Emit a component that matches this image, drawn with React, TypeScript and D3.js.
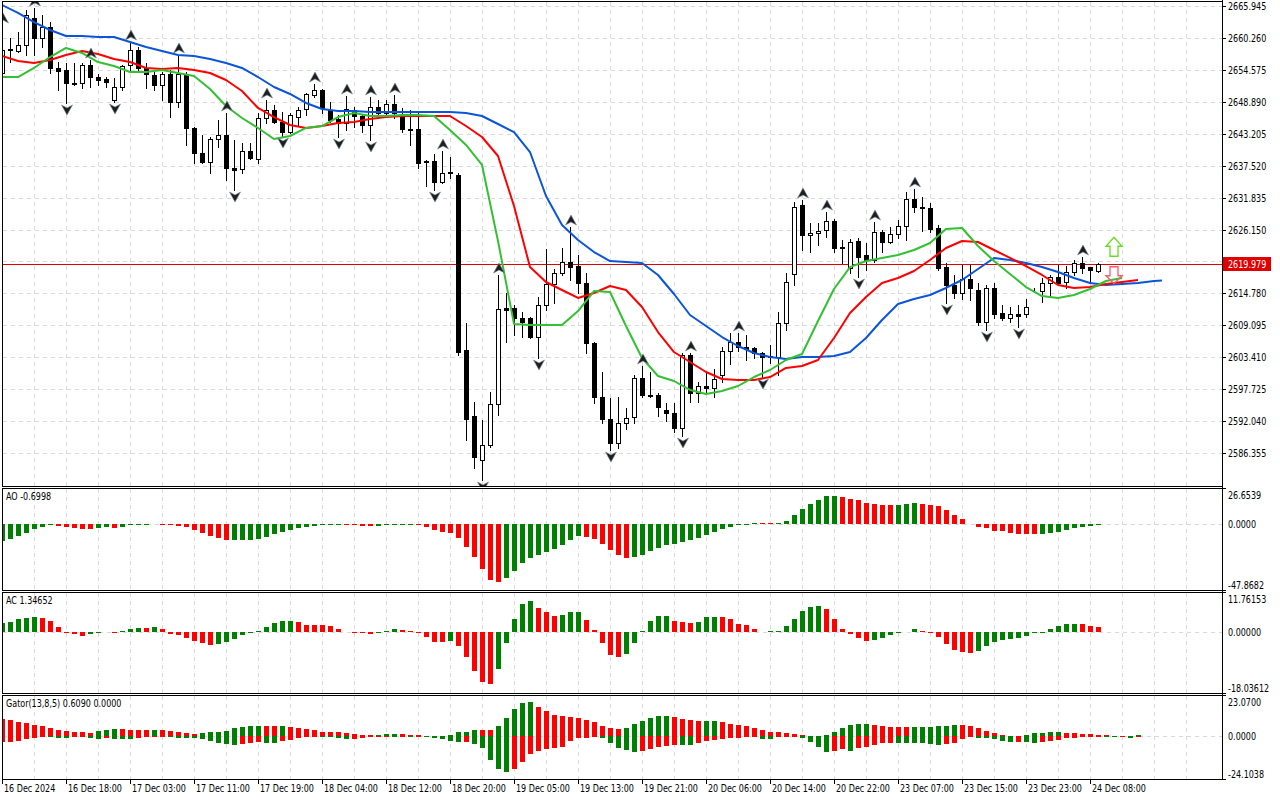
import * as d3 from 'd3'

// H1 bars, 16 Dec 2024 .. 24 Dec 2024
const timeLabels = [
  '16 Dec 2024', '16 Dec 18:00', '17 Dec 03:00', '17 Dec 11:00', '17 Dec 19:00', '18 Dec 04:00',
  '18 Dec 12:00', '18 Dec 20:00', '19 Dec 05:00', '19 Dec 13:00', '19 Dec 21:00', '20 Dec 06:00',
  '20 Dec 14:00', '20 Dec 22:00', '23 Dec 07:00', '23 Dec 15:00', '23 Dec 23:00', '24 Dec 08:00',
]

const priceTicks = [
  2665.945, 2660.26, 2654.575, 2648.89, 2643.205, 2637.52, 2631.835, 2626.15,
  2620.465, 2614.78, 2609.095, 2603.41, 2597.725, 2592.04, 2586.355,
]

const opens = [
  2654.02, 2658.29, 2657.93, 2659.0, 2663.81, 2660.25, 2662.2, 2654.91, 2654.55, 2652.24,
  2652.24, 2655.44, 2653.3, 2652.95, 2649.21, 2651.52, 2655.44, 2658.11, 2654.91, 2653.66,
  2651.88, 2653.84, 2648.85, 2653.84, 2644.23, 2639.78, 2638.17, 2642.27, 2642.98, 2637.11,
  2636.93, 2640.13, 2638.71, 2646.01, 2647.43, 2645.29, 2643.51, 2646.18, 2647.61, 2650.1,
  2650.99, 2647.43, 2645.83, 2645.12, 2647.43, 2646.36, 2644.76, 2647.96, 2646.9, 2648.5,
  2646.54, 2644.05, 2644.05, 2638.35, 2638.35, 2634.61, 2636.22, 2635.86, 2604.71, 2592.96,
  2585.13, 2587.8, 2595.1, 2612.19, 2612.19, 2610.41, 2610.41, 2607.02, 2612.72, 2616.46,
  2618.42, 2620.37, 2619.66, 2616.64, 2605.96, 2596.34, 2592.43, 2588.16, 2591.72, 2592.78,
  2599.73, 2596.7, 2596.7, 2594.03, 2593.5, 2590.83, 2603.82, 2597.05, 2598.3, 2597.95,
  2600.26, 2604.53, 2606.13, 2605.24, 2605.07, 2604.17, 2603.46, 2603.46, 2609.52, 2618.24,
  2630.52, 2625.18, 2625.54, 2626.07, 2627.67, 2623.04, 2619.31, 2624.11, 2621.62, 2620.73,
  2625.71, 2623.93, 2625.36, 2626.78, 2631.59, 2630.16, 2629.99, 2626.43, 2619.47, 2616.28,
  2614.86, 2617.35, 2615.39, 2609.69, 2615.75, 2611.3, 2610.41, 2611.12, 2611.12, 2615.39,
  2615.21, 2616.64, 2617.7, 2616.81, 2618.59, 2620.2, 2619.47, 2618.77,
]
const highs = [
  2662.56, 2660.25, 2661.31, 2665.23, 2665.59, 2664.34, 2663.09, 2655.97, 2655.8, 2655.8,
  2655.8, 2656.33, 2653.84, 2653.3, 2653.13, 2655.44, 2659.53, 2658.64, 2655.8, 2654.19,
  2654.19, 2654.55, 2657.22, 2654.19, 2644.4, 2642.98, 2642.62, 2645.65, 2646.9, 2642.09,
  2641.56, 2641.56, 2646.9, 2649.21, 2648.32, 2647.07, 2646.9, 2647.96, 2650.46, 2652.06,
  2651.17, 2648.85, 2646.54, 2649.92, 2647.96, 2646.54, 2649.74, 2649.21, 2649.21, 2650.1,
  2647.79, 2647.43, 2646.9, 2638.53, 2639.6, 2640.13, 2639.06, 2636.22, 2609.52, 2595.45,
  2592.25, 2597.23, 2618.06, 2614.86, 2612.72, 2611.47, 2610.58, 2614.14, 2622.69, 2619.13,
  2622.87, 2626.6, 2621.62, 2618.42, 2606.13, 2600.79, 2596.17, 2596.34, 2594.39, 2600.26,
  2601.86, 2600.79, 2597.05, 2595.28, 2595.28, 2604.17, 2604.17, 2599.01, 2600.62, 2601.33,
  2605.24, 2607.74, 2607.74, 2607.38, 2605.24, 2604.35, 2605.6, 2611.47, 2618.42, 2631.05,
  2631.41, 2627.32, 2627.32, 2629.27, 2628.03, 2624.29, 2624.47, 2624.65, 2623.76, 2627.49,
  2626.07, 2626.6, 2627.85, 2632.83, 2633.37, 2631.94, 2630.88, 2626.96, 2620.2, 2618.06,
  2619.84, 2619.84, 2616.64, 2616.28, 2616.64, 2612.72, 2612.36, 2612.72, 2613.79, 2615.75,
  2617.53, 2618.06, 2619.84, 2619.66, 2620.73, 2621.26, 2619.47, 2620.2,
]
const lows = [
  2653.66, 2655.97, 2657.75, 2657.22, 2657.22, 2658.64, 2654.02, 2650.99, 2648.68, 2651.88,
  2651.35, 2651.52, 2651.88, 2651.52, 2648.85, 2650.99, 2654.55, 2654.19, 2651.35, 2650.99,
  2649.21, 2646.18, 2647.96, 2641.2, 2638.0, 2638.0, 2636.22, 2640.84, 2634.97, 2633.19,
  2636.22, 2638.71, 2638.0, 2645.12, 2645.12, 2642.8, 2643.34, 2644.76, 2646.54, 2649.74,
  2646.9, 2645.29, 2642.62, 2643.87, 2644.4, 2643.51, 2642.09, 2646.54, 2646.18, 2646.01,
  2643.51, 2641.2, 2637.11, 2633.9, 2633.19, 2634.44, 2635.33, 2603.82, 2588.69, 2583.71,
  2581.57, 2587.44, 2593.14, 2606.13, 2607.38, 2607.02, 2606.85, 2603.29, 2611.83, 2613.08,
  2618.06, 2617.17, 2614.86, 2604.17, 2595.28, 2591.72, 2586.91, 2587.27, 2590.65, 2591.72,
  2596.34, 2596.34, 2592.96, 2592.07, 2590.11, 2589.4, 2595.45, 2595.45, 2597.05, 2596.34,
  2599.01, 2602.22, 2604.53, 2602.93, 2603.29, 2599.9, 2602.4, 2600.26, 2608.27, 2616.28,
  2622.51, 2622.15, 2623.4, 2624.82, 2622.15, 2620.2, 2618.42, 2617.7, 2618.95, 2620.37,
  2622.15, 2623.76, 2624.65, 2624.29, 2629.27, 2625.89, 2625.71, 2618.95, 2613.08, 2613.97,
  2613.79, 2613.61, 2609.16, 2608.27, 2610.41, 2610.05, 2609.69, 2608.8, 2610.58, 2615.03,
  2613.25, 2614.5, 2616.46, 2615.75, 2618.06, 2618.42, 2616.64, 2618.59,
]
const closes = [
  2658.11, 2658.11, 2659.0, 2664.34, 2660.25, 2662.2, 2654.91, 2654.37, 2652.24, 2652.06,
  2655.44, 2653.3, 2652.77, 2652.41, 2651.52, 2655.26, 2658.11, 2654.91, 2653.84, 2651.88,
  2653.84, 2648.85, 2653.84, 2644.23, 2639.78, 2638.17, 2642.27, 2642.98, 2637.11, 2636.75,
  2640.13, 2638.89, 2646.01, 2647.43, 2645.29, 2643.51, 2646.54, 2647.43, 2650.28, 2650.99,
  2647.79, 2645.65, 2645.12, 2647.61, 2646.36, 2644.76, 2647.96, 2646.9, 2648.5, 2646.9,
  2644.05, 2643.87, 2638.0, 2638.17, 2634.61, 2636.22, 2636.39, 2604.35, 2592.43, 2585.66,
  2587.8, 2595.1, 2612.01, 2611.83, 2610.41, 2609.69, 2607.02, 2612.72, 2616.46, 2618.42,
  2620.37, 2619.47, 2616.64, 2605.96, 2596.34, 2592.43, 2588.16, 2591.72, 2592.61, 2599.73,
  2596.7, 2596.52, 2594.56, 2593.5, 2590.83, 2603.82, 2597.05, 2598.3, 2597.95, 2599.55,
  2604.53, 2606.13, 2605.24, 2604.89, 2604.17, 2603.46, 2603.64, 2609.52, 2616.81, 2630.16,
  2625.18, 2625.54, 2625.89, 2627.67, 2622.87, 2622.87, 2623.93, 2621.26, 2620.73, 2625.71,
  2623.93, 2625.36, 2626.78, 2631.59, 2630.16, 2629.99, 2626.25, 2619.31, 2616.28, 2614.86,
  2617.35, 2615.75, 2609.69, 2615.75, 2611.12, 2610.41, 2611.12, 2610.76, 2612.36, 2615.3,
  2616.64, 2617.7, 2616.64, 2618.59, 2620.2, 2619.31, 2618.95, 2619.979,
]

const fractalUp = [0, 4, 11, 16, 22, 28, 33, 39, 43, 46, 49, 55, 62, 71, 80, 86, 92, 100, 103, 109, 114, 135]
const fractalDown = [8, 14, 29, 35, 42, 46, 54, 60, 67, 76, 85, 95, 107, 118, 123, 127]

// Alligator, one value every second bar (bar 0, 2, 4 ...)
const jaw = [
  2666.12, 2664.7, 2663.09, 2661.67, 2660.6, 2660.6, 2660.42, 2660.42, 2659.53, 2658.64,
  2657.93, 2657.22, 2657.04, 2656.51, 2655.8, 2654.91, 2653.3, 2651.52, 2650.28, 2648.68,
  2647.61, 2647.25, 2647.25, 2647.07, 2647.07, 2647.07, 2647.07, 2647.07, 2647.07, 2646.9,
  2646.36, 2644.94, 2643.51, 2639.95, 2632.12, 2626.96, 2624.29, 2622.15, 2620.55, 2620.37,
  2620.2, 2618.06, 2614.68, 2610.94, 2608.98, 2607.02, 2605.42, 2604.17, 2603.46, 2603.11,
  2603.46, 2603.46, 2603.64, 2604.35, 2606.85, 2610.05, 2612.9, 2613.79, 2614.5, 2615.75,
  2617.17, 2619.13, 2621.09, 2620.73, 2620.2, 2619.48, 2618.59, 2617.52, 2616.64, 2616.28,
  2616.46, 2616.64, 2616.99,
]
const jawLast = 2617.08 // bar 145, end of the jaw line
const teeth = [
  2657.04, 2656.15, 2655.8, 2656.33, 2657.22, 2657.93, 2657.4, 2656.51, 2655.97, 2654.91,
  2654.73, 2654.91, 2654.55, 2654.02, 2652.77, 2650.81, 2647.79, 2646.18, 2644.76, 2644.23,
  2644.58, 2645.12, 2645.29, 2645.83, 2646.18, 2646.36, 2646.36, 2646.36, 2646.36, 2644.58,
  2642.62, 2639.24, 2630.34, 2619.47, 2616.81, 2615.39, 2613.97, 2614.86, 2616.1, 2615.39,
  2612.36, 2607.91, 2604.35, 2602.57, 2600.79, 2599.55, 2599.37, 2599.37, 2599.9, 2601.51,
  2601.86, 2602.93, 2606.85, 2611.3, 2614.14, 2616.64, 2617.53, 2618.77, 2620.73, 2622.87,
  2624.11, 2623.93, 2622.51, 2621.09, 2619.66, 2618.06, 2616.28, 2615.75, 2615.92, 2616.46,
  2616.81, 2617.17,
]
const lips = [
  2653.3, 2653.3, 2654.91, 2656.86, 2658.47, 2657.58, 2655.97, 2655.26, 2654.19, 2654.19,
  2654.55, 2654.02, 2653.49, 2651.17, 2648.14, 2646.01, 2644.23, 2642.27, 2642.8, 2644.23,
  2644.58, 2646.18, 2646.9, 2646.36, 2646.36, 2646.54, 2646.54, 2646.36, 2643.87, 2641.2,
  2637.64, 2624.11, 2609.34, 2609.16, 2609.16, 2609.16, 2611.65, 2615.21, 2615.03, 2608.98,
  2603.29, 2600.08, 2599.19, 2597.59, 2596.88, 2597.41, 2598.3, 2599.9, 2601.15, 2602.93,
  2603.99, 2609.87, 2615.57, 2619.47, 2620.55, 2621.09, 2621.62, 2622.51, 2623.76, 2626.25,
  2626.43, 2623.22, 2620.55, 2618.24, 2615.92, 2614.32, 2613.97, 2614.5, 2615.57, 2616.99,
  2617.53,
]

const ao = [
  -12.05, -10.8, -8.6, -6.1, -3.4, -1.7, -0.7, -1.0, -1.7, -2.5,
  -3.2, -3.3, -2.5, -2.2, -2.4, -1.5, -0.5, -0.2, 0.1, 0.6,
  0.3, 0.1, -0.8, -2.0, -4.2, -6.1, -8.4, -9.8, -11.6, -11.5,
  -11.3, -11.1, -10.8, -9.1, -7.1, -5.4, -3.9, -2.5, -1.5, -1.0,
  -0.5, -0.2, -0.1, -0.3, -0.5, -0.8, -1.0, -0.8, -0.4, 0.2,
  0.4, 0.5, -0.3, -2.2, -3.9, -5.4, -6.4, -9.6, -16.2, -23.9,
  -32.5, -40.8, -42.1, -39.4, -34.2, -28.1, -24.6, -22.4, -20.2, -18.0,
  -15.0, -11.3, -8.4, -9.1, -10.3, -14.0, -18.7, -22.4, -24.4, -23.9,
  -22.4, -19.4, -17.0, -15.0, -14.0, -12.6, -11.1, -9.6, -7.6, -5.2,
  -3.0, -1.7, -0.7, 0.2, 1.0, 0.9, 0.8, 1.2, 2.9, 6.6,
  11.1, 14.8, 17.7, 20.7, 20.8, 20.2, 18.4, 17.7, 15.7, 14.8,
  14.0, 13.9, 14.3, 14.8, 15.5, 15.3, 14.3, 13.3, 10.3, 6.9,
  3.7, 0.7, -1.7, -2.5, -4.4, -4.9, -6.4, -7.1, -7.2, -7.3,
  -7.1, -6.1, -5.2, -3.7, -2.7, -1.6, -1.0, -0.6998,
]
const ac = [
  2.7, 3.0, 3.7, 4.2, 4.5, 4.2, 3.3, 1.5, -0.2, -0.5,
  -1.1, -0.7, -0.2, 0.1, -0.05, 0.4, 0.9, 1.1, 1.0, 1.4,
  0.7, -0.5, -1.0, -1.7, -2.8, -3.4, -3.9, -3.6, -3.0, -2.1,
  -0.8, -0.1, 0.2, 1.5, 2.5, 3.2, 3.25, 2.8, 2.0, 1.95,
  1.9, 1.6, 0.7, 0.1, -0.2, -0.3, -0.5, 0.0, 0.4, 0.7,
  0.5, 0.3, -0.1, -1.6, -2.9, -2.95, -2.6, -4.1, -7.5, -11.5,
  -14.8, -15.3, -10.9, -3.2, 3.8, 8.3, 9.1, 7.1, 5.8, 4.6,
  5.1, 5.9, 5.95, 3.6, 0.6, -3.2, -6.8, -7.3, -6.6, -3.2,
  0.3, 3.3, 4.6, 4.65, 3.3, 2.8, 2.75, 2.8, 4.3, 4.35,
  4.3, 3.8, 2.4, 2.1, 0.9, 0.1, 0.2, 0.3, 1.6, 3.9,
  6.3, 7.2, 7.5, 6.6, 3.9, 0.9, -0.5, -1.7, -2.6, -2.3,
  -1.8, -1.0, -0.1, 0.1, 0.8, 0.4, -0.1, -1.4, -3.5, -5.4,
  -6.0, -6.2, -5.6, -4.1, -2.9, -2.4, -2.2, -1.7, -1.1, -0.4,
  0.0, 0.9, 1.8, 2.4, 2.45, 2.4, 1.8, 1.34652,
]
const gatorUp = [
  9.4, 9.0, 8.0, 7.5, 6.2, 5.8, 4.3, 3.4, 2.8, 2.4,
  2.1, 1.9, 3.0, 3.6, 3.9, 3.7, 3.4, 3.35, 3.3, 3.5,
  3.3, 3.0, 2.1, 1.7, 1.3, 2.0, 2.2, 2.25, 3.0, 4.3,
  5.2, 5.6, 5.65, 5.6, 5.55, 5.6, 5.2, 4.7, 3.7, 3.4,
  2.4, 2.35, 2.1, 1.5, 0.9, 0.6, 0.4, 0.6, 0.9, 1.2,
  1.1, 0.6, 0.4, 0.2, 0.1, 0.3, 0.8, 2.1, 2.4, 3.4,
  3.3, 3.2, 5.6, 10.3, 15.0, 18.3, 18.9, 16.5, 14.0, 11.8,
  11.2, 10.5, 9.9, 9.0, 7.7, 5.6, 4.3, 4.25, 4.35, 6.6,
  8.6, 9.9, 11.2, 11.25, 10.5, 9.5, 9.0, 8.4, 8.6, 8.65,
  7.7, 6.7, 6.2, 5.6, 4.7, 3.4, 2.4, 2.1, 1.5, 1.1,
  0.6, 0.3, 0.1, 0.6, 2.4, 4.7, 6.5, 6.55, 6.6, 6.5,
  5.8, 5.3, 5.1, 5.0, 5.05, 5.1, 5.2, 5.5, 5.6, 6.2,
  6.1, 5.6, 4.3, 3.0, 1.5, 0.6, 0.1, 0.2, 0.6, 1.5,
  1.9, 2.2, 2.4, 2.0, 1.5, 1.1, 0.9, 0.609, 0.4, 0.2,
  0.1, 0.3, 0.5,
]
const gatorDown = [
  -3.6, -3.2, -2.7, -1.5, -0.9, -0.5, -0.6, -1.1, -1.3, -0.7,
  -0.4, -1.2, -1.5, -1.3, -1.4, -1.6, -1.7, -1.2, -0.7, -0.4,
  -0.2, -0.5, -0.9, -1.0, -1.2, -1.9, -2.8, -3.8, -4.7, -5.0,
  -4.7, -4.0, -3.6, -3.9, -4.0, -3.0, -2.0, -1.0, -0.3, -0.1,
  -0.2, -0.6, -1.1, -1.5, -1.4, -0.8, -0.5, -0.3, -0.2, -0.3,
  -0.2, -0.25, -0.1, -0.3, -1.3, -1.8, -2.6, -3.6, -3.3, -4.5,
  -6.9, -13.5, -18.3, -20.0, -18.3, -14.4, -10.1, -8.2, -7.1, -6.6,
  -6.0, -2.5, -1.0, -0.8, -0.3, -1.3, -4.1, -6.6, -7.9, -8.8,
  -8.2, -7.1, -6.0, -5.4, -5.05, -5.1, -5.15, -4.1, -2.6, -2.2,
  -1.9, -1.3, -0.9, -0.7, -0.4, -1.5, -1.55, -0.7, -0.6, -0.5,
  -1.3, -3.2, -6.4, -8.8, -8.2, -7.5, -8.1, -6.9, -6.0, -5.1,
  -4.1, -3.7, -3.8, -3.85, -3.9, -4.1, -4.5, -5.1, -4.5, -3.7,
  -1.9, -0.4, -1.3, -1.35, -1.9, -2.6, -3.2, -3.1, -3.4, -3.7,
  -3.2, -2.6, -2.2, -1.3, -0.9, -0.4, -0.1, 0, -0.3, -0.6,
  -0.5, -0.8, -0.6,
]

const lastPrice = 2619.979
const signalBar = 139
const upSignalPrice = 2621.4
const downSignalPrice = 2618.1

const GREEN = '#008000'
const RED = '#ff0000'
const GRID = '#d9d9d9'
const FONT = "'DejaVu Sans Condensed', 'Liberation Sans', sans-serif"

const AXIS_X = 1222
const mainPane = { top: 1, bottom: 486 }
const aoPane = { top: 488, bottom: 590, min: -47.8682, max: 26.6539 }
const acPane = { top: 592, bottom: 693, min: -18.03612, max: 11.76153 }
const gatorPane = { top: 695, bottom: 779, min: -24.1038, max: 23.07 }

const barColors = (vals: number[], first: string, useAbs: boolean) =>
  vals.map((v, i) => {
    if (i === 0) return first
    const a = useAbs ? Math.abs(v) : v
    const b = useAbs ? Math.abs(vals[i - 1]) : vals[i - 1]
    return a > b ? GREEN : RED
  })

// terminal style narrow text
const Label = ({ x, y, children, fill = '#000' }: { x: number; y: number; children: any; fill?: string }) => (
  <text transform={`translate(${x},${y}) scale(0.85,1)`} fontSize={10.5} fill={fill}>{children}</text>
)

const App = () => {
  const x = d3.scaleLinear().domain([0, 152.5]).range([2, AXIS_X])
  const y = d3.scaleLinear().domain([2580.5, 2667.01]).range([486, 0])

  const yAo = d3.scaleLinear().domain([aoPane.min, aoPane.max]).range([aoPane.bottom, aoPane.top])
  const yAc = d3.scaleLinear().domain([acPane.min, acPane.max]).range([acPane.bottom, acPane.top])
  const yGator = d3.scaleLinear().domain([gatorPane.min, gatorPane.max]).range([gatorPane.bottom, gatorPane.top])

  const gridBars = d3.range(4, 152, 4)

  const alligatorPath = (vals: number[], extra?: [number, number]) => {
    const pts: [number, number][] = vals.map((v, k) => [k * 2, v])
    if (extra) pts.push(extra)
    return d3.line<[number, number]>()
      .x(d => x(d[0]))
      .y(d => y(d[1]))(pts) ?? ''
  }

  const histogram = (vals: number[], scale: d3.ScaleLinear<number, number>, colors: string[], key: string) =>
    vals.map((v, i) => {
      const y0 = scale(0)
      const y1 = scale(v)
      return (
        <rect
          key={key + i}
          x={Math.round(x(i)) - 2}
          y={Math.min(y0, y1)}
          width={5}
          height={Math.max(Math.abs(y1 - y0), 0.8)}
          fill={colors[i]}
        />
      )
    })

  const indicatorPane = (
    pane: { top: number; bottom: number; min: number; max: number },
    scale: d3.ScaleLinear<number, number>,
    title: string,
    labels: string[],
    id: string,
    bars: JSX.Element[],
  ) => (
    <g>
      <clipPath id={id}>
        <rect x={3} y={pane.top + 1} width={AXIS_X - 3} height={pane.bottom - pane.top - 1} />
      </clipPath>
      {gridBars.map(b => (
        <line key={id + 'g' + b} x1={x(b) + 0.5} x2={x(b) + 0.5} y1={pane.top + 1} y2={pane.bottom}
          stroke={GRID} strokeDasharray="4,4" />
      ))}
      <line x1={3} x2={AXIS_X} y1={Math.round(scale(0)) + 0.5} y2={Math.round(scale(0)) + 0.5}
        stroke={GRID} strokeDasharray="4,4" />
      <g clipPath={`url(#${id})`}>{bars}</g>
      <rect x={2.5} y={pane.top + 0.5} width={AXIS_X - 2.5} height={pane.bottom - pane.top}
        fill="none" stroke="#000" />
      <Label x={6} y={pane.top + 12}>{title}</Label>
      <line x1={AXIS_X} x2={AXIS_X + 4} y1={pane.top + 0.5} y2={pane.top + 0.5} stroke="#000" />
      <line x1={AXIS_X} x2={AXIS_X + 4} y1={pane.bottom + 0.5} y2={pane.bottom + 0.5} stroke="#000" />
      <Label x={AXIS_X + 6} y={pane.top + 11}>{labels[0]}</Label>
      <Label x={AXIS_X + 6} y={scale(0) + 4}>{labels[1]}</Label>
      <Label x={AXIS_X + 6} y={pane.bottom - 1}>{labels[2]}</Label>
    </g>
  )

  const upArrow = 'M0,-5 L5.5,5 L0,2 L-5.5,5 Z'
  const downArrow = 'M0,5 L5.5,-5 L0,-2 L-5.5,-5 Z'

  const sx = Math.round(x(signalBar))
  const upY = y(upSignalPrice)
  const dnY = y(downSignalPrice)
  const lastY = y(lastPrice)

  return (
    <svg width={1280} height={800} style={{ position: 'absolute', left: 0, top: 0, background: '#fff' }}
      fontFamily={FONT} shapeRendering="crispEdges">
      <rect x={0} y={0} width={1280} height={800} fill="#fff" />
      <clipPath id="mainClip">
        <rect x={3} y={mainPane.top + 1} width={AXIS_X - 3} height={mainPane.bottom - mainPane.top - 1} />
      </clipPath>

      {/* main pane grid */}
      {gridBars.map(b => (
        <line key={'vg' + b} x1={x(b) + 0.5} x2={x(b) + 0.5} y1={mainPane.top + 1} y2={mainPane.bottom}
          stroke={GRID} strokeDasharray="4,4" />
      ))}
      {priceTicks.map(p => (
        <line key={'hg' + p} x1={3} x2={AXIS_X} y1={Math.round(y(p)) + 0.5} y2={Math.round(y(p)) + 0.5}
          stroke={GRID} strokeDasharray="4,4" />
      ))}

      <g clipPath="url(#mainClip)">
        <line x1={3} x2={AXIS_X} y1={Math.round(lastY) + 0.5} y2={Math.round(lastY) + 0.5}
          stroke="#e00000" />
        {opens.map((o, i) => {
          const cx = Math.round(x(i))
          const c = closes[i]
          const top = Math.round(y(Math.max(o, c)))
          const bot = Math.round(y(Math.min(o, c)))
          const bull = c >= o
          return (
            <g key={'c' + i}>
              <line x1={cx + 0.5} x2={cx + 0.5} y1={Math.round(y(highs[i]))} y2={Math.round(y(lows[i])) + 1}
                stroke="#000" />
              <rect x={cx - 1.5} y={top + 0.5} width={4} height={Math.max(bot - top, 0)}
                fill={bull ? '#fff' : '#000'} stroke="#000" />
            </g>
          )
        })}
        <g shapeRendering="auto" fill="none" strokeWidth={2} strokeLinejoin="round">
          <path d={alligatorPath(jaw, [145, jawLast])} stroke="#0a55d8" />
          <path d={alligatorPath(teeth)} stroke="#ff0000" />
          <path d={alligatorPath(lips)} stroke="#33c133" />
        </g>
        <g shapeRendering="auto">
          {fractalUp.map(i => (
            <path key={'fu' + i} d={upArrow} transform={`translate(${x(i) + 1},${y(highs[i]) - 7})`}
              fill="#1e1e1e" stroke="#7a8a9a" strokeWidth={0.6} />
          ))}
          {fractalDown.map(i => (
            <path key={'fd' + i} d={downArrow} transform={`translate(${x(i) + 1},${y(lows[i]) + 7})`}
              fill="#1e1e1e" stroke="#7a8a9a" strokeWidth={0.6} />
          ))}
          <path
            d={`M${sx},${upY - 19} L${sx + 8},${upY - 10} L${sx + 4},${upY - 10} L${sx + 4},${upY}
              L${sx - 4},${upY} L${sx - 4},${upY - 10} L${sx - 8},${upY - 10} Z`}
            fill="#fff" fillOpacity={0.6} stroke="#66dd22" strokeWidth={1.3} />
          <path
            d={`M${sx - 4},${dnY - 8} L${sx + 4},${dnY - 8} L${sx + 4},${dnY + 1} L${sx + 8},${dnY + 1}
              L${sx},${dnY + 9} L${sx - 8},${dnY + 1} L${sx - 4},${dnY + 1} Z`}
            fill="none" stroke="#ff5a6e" strokeWidth={1.3} />
        </g>
      </g>
      <rect x={2.5} y={mainPane.top + 0.5} width={AXIS_X - 2.5} height={mainPane.bottom - mainPane.top}
        fill="none" stroke="#000" />

      {/* price axis; the tick under the bid box is covered by it */}
      {priceTicks.map(p => (
        <g key={'pt' + p}>
          <line x1={AXIS_X} x2={AXIS_X + 4} y1={Math.round(y(p)) + 0.5} y2={Math.round(y(p)) + 0.5} stroke="#000" />
          {Math.abs(y(p) - lastY) > 10 && <Label x={AXIS_X + 6} y={y(p) + 4}>{p.toFixed(3)}</Label>}
        </g>
      ))}
      <rect x={AXIS_X + 1} y={Math.round(lastY) - 7} width={48} height={14} fill="#e00000" />
      <Label x={AXIS_X + 6} y={lastY + 4} fill="#fff">{lastPrice.toFixed(3)}</Label>

      {indicatorPane(aoPane, yAo, `AO ${ao[ao.length - 1].toFixed(4)}`,
        [aoPane.max.toFixed(4), '0.0000', aoPane.min.toFixed(4)], 'aoClip',
        histogram(ao, yAo, barColors(ao, GREEN, false), 'ao'))}
      {indicatorPane(acPane, yAc, `AC ${ac[ac.length - 1].toFixed(5)}`,
        [acPane.max.toFixed(5), '0.00000', acPane.min.toFixed(5)], 'acClip',
        histogram(ac, yAc, barColors(ac, GREEN, false), 'ac'))}
      {indicatorPane(gatorPane, yGator,
        `Gator(13,8,5) ${gatorUp[137].toFixed(4)} ${Math.abs(gatorDown[137]).toFixed(4)}`,
        [gatorPane.max.toFixed(4), '0.0000', gatorPane.min.toFixed(4)], 'gatorClip',
        [
          ...histogram(gatorUp, yGator, barColors(gatorUp, RED, false), 'gu'),
          ...histogram(gatorDown, yGator, barColors(gatorDown, RED, true), 'gd'),
        ])}

      {/* right axis line */}
      <line x1={AXIS_X + 0.5} x2={AXIS_X + 0.5} y1={0} y2={gatorPane.bottom + 1} stroke="#000" />

      {/* time axis */}
      {timeLabels.map((t, k) => {
        const tx = Math.round(x(k * 8))
        return (
          <g key={'t' + k}>
            <line x1={tx + 0.5} x2={tx + 0.5} y1={gatorPane.bottom} y2={gatorPane.bottom + 5} stroke="#000" />
            <Label x={tx + 2} y={gatorPane.bottom + 13}>{t}</Label>
          </g>
        )
      })}
    </svg>
  )
}

export default App
